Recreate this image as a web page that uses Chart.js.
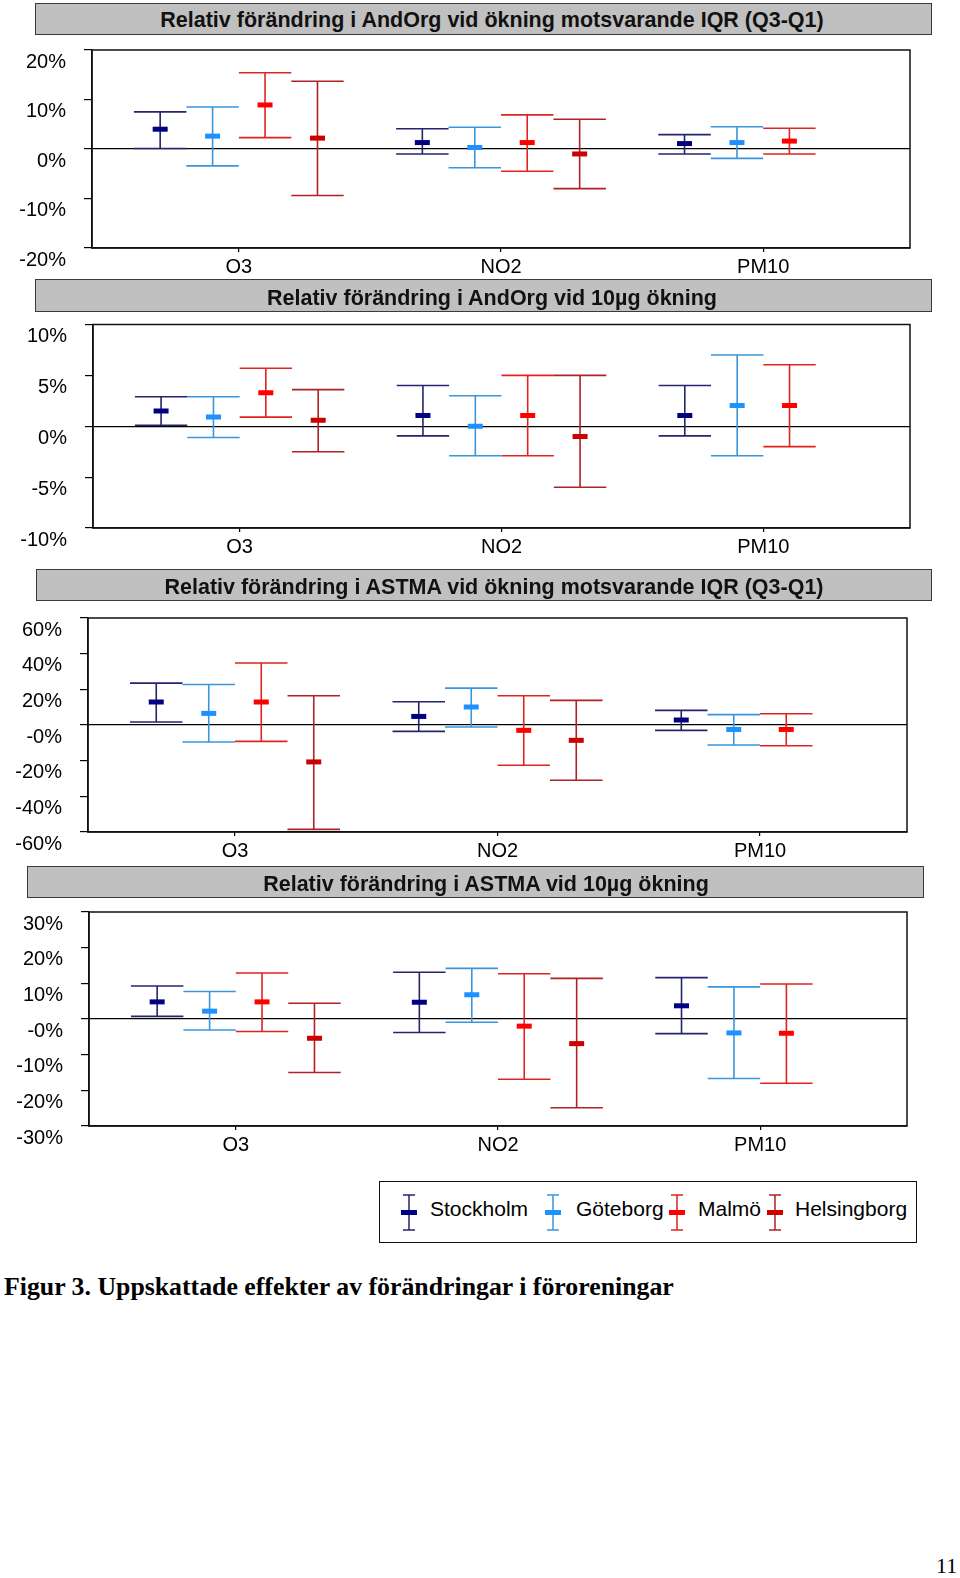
<!DOCTYPE html>
<html><head><meta charset="utf-8">
<script src="https://cdn.jsdelivr.net/npm/chart.js@4.4.1/dist/chart.umd.min.js"></script>
<style>
html,body{margin:0;padding:0;background:#fff;}
body{width:960px;height:1578px;position:relative;overflow:hidden;font-family:"Liberation Sans",Arial,sans-serif;}
.banner{position:absolute;box-sizing:border-box;background:#c0c0c0;border:1.5px solid #3a3a3a;}
.btext{position:absolute;width:900px;text-align:center;font-weight:bold;font-size:21.5px;line-height:21px;color:#111;white-space:nowrap;}
canvas.panel{position:absolute;left:0;}
.legend{position:absolute;box-sizing:border-box;border:1.5px solid #111;left:379px;top:1181px;width:538px;height:62px;}
.ltext{position:absolute;font-size:21px;line-height:21px;color:#000;white-space:nowrap;}
.caption{position:absolute;left:4px;top:1274px;font-family:"Liberation Serif","Times New Roman",serif;font-weight:bold;font-size:25.8px;line-height:26px;color:#000;white-space:nowrap;}
.pageno{position:absolute;left:936px;top:1555px;font-family:"Liberation Serif","Times New Roman",serif;font-size:22px;line-height:22px;color:#000;}
</style></head>
<body>
<div class="banner" style="left:35px;top:3px;width:897px;height:32px;"></div>
<div class="btext" style="left:42px;top:10px;">Relativ förändring i AndOrg vid ökning motsvarande IQR (Q3-Q1)</div>
<canvas class="panel" id="c1"></canvas>

<div class="banner" style="left:35px;top:279px;width:897px;height:33px;"></div>
<div class="btext" style="left:42px;top:288px;">Relativ förändring i AndOrg vid 10µg ökning</div>
<canvas class="panel" id="c2"></canvas>

<div class="banner" style="left:36px;top:569px;width:896px;height:32px;"></div>
<div class="btext" style="left:44px;top:577px;">Relativ förändring i ASTMA vid ökning motsvarande IQR (Q3-Q1)</div>
<canvas class="panel" id="c3"></canvas>

<div class="banner" style="left:27px;top:866px;width:897px;height:32px;"></div>
<div class="btext" style="left:36px;top:874px;">Relativ förändring i ASTMA vid 10µg ökning</div>
<canvas class="panel" id="c4"></canvas>

<div class="legend"></div>
<div id="legendItems"></div>

<div class="caption">Figur 3. Uppskattade effekter av förändringar i föroreningar</div>
<div class="pageno">11</div>

<script>
// ---------------- DATA ----------------
const categories = ['O3', 'NO2', 'PM10'];
const cities = ['Stockholm', 'Göteborg', 'Malmö', 'Helsingborg'];

// Panel 1: AndOrg, IQR increase (%), rows = cities, cols = categories
const andorgIqrMean = [[4.0, 1.3, 1.1], [2.6, 0.3, 1.3], [8.9, 1.3, 1.6], [2.2, -1.0, null]];
const andorgIqrLow  = [[0.1, -1.0, -1.0], [-3.4, -3.8, -1.9], [2.3, -4.5, -1.0], [-9.4, -8.0, null]];
const andorgIqrHigh = [[7.5, 4.1, 2.9], [8.5, 4.4, 4.5], [15.4, 6.9, 4.2], [13.7, 6.0, null]];
const andorgIqrTicks = [-20, -10, 0, 10, 20];
const andorgIqrTickLabels = ['-20%', '-10%', '0%', '10%', '20%'];

// Panel 2: AndOrg, 10µg increase (%)
const andorg10Mean = [[1.5, 1.05, 1.05], [0.9, 0.0, 2.05], [3.3, 1.05, 2.05], [0.6, -1.0, null]];
const andorg10Low  = [[0.1, -0.95, -0.95], [-1.1, -2.9, -2.9], [0.9, -2.9, -2.0], [-2.5, -6.0, null]];
const andorg10High = [[2.9, 4.0, 4.0], [2.9, 3.0, 7.0], [5.7, 5.0, 6.05], [3.6, 5.0, null]];
const andorg10Ticks = [-10, -5, 0, 5, 10];
const andorg10TickLabels = ['-10%', '-5%', '0%', '5%', '10%'];

// Panel 3: ASTMA, IQR increase (%)
const astmaIqrMean = [[12.9, 4.8, 2.8], [6.5, 10.1, -2.5], [12.9, -3.0, -2.5], [-20.7, -8.6, null]];
const astmaIqrLow  = [[1.7, -3.6, -3.0], [-9.5, -1.1, -11.2], [-9.2, -22.6, -11.6], [-58.5, -31.0, null]];
const astmaIqrHigh = [[23.5, 13.0, 8.2], [22.7, 20.7, 5.8], [34.8, 16.4, 6.3], [16.4, 13.8, null]];
const astmaIqrTicks = [-60, -40, -20, 0, 20, 40, 60];
const astmaIqrTickLabels = ['-60%', '-40%', '-20%', '-0%', '20%', '40%', '60%'];

// Panel 4: ASTMA, 10µg increase (%)
const astma10Mean = [[4.8, 4.7, 3.7], [2.2, 6.8, -3.9], [4.8, -2.0, -4.0], [-5.4, -6.9, null]];
const astma10Low  = [[0.75, -3.8, -4.1], [-3.1, -0.9, -16.7], [-3.5, -16.9, -18.0], [-15.0, -24.9, null]];
const astma10High = [[9.25, 13.1, 11.6], [7.7, 14.2, 9.0], [12.9, 12.7, 9.8], [4.4, 11.4, null]];
const astma10Ticks = [-30, -20, -10, 0, 10, 20, 30];
const astma10TickLabels = ['-30%', '-20%', '-10%', '-0%', '10%', '20%', '30%'];

// ---------------- STYLE / LAYOUT ----------------
const FONT = '"Liberation Sans", Arial, sans-serif';
const lineColors = ['#25256e', '#3a96dc', '#e02424', '#b02226'];
const markerColors = ['#000080', '#1e90ff', '#ff0000', '#cc0000'];
const groupOffsets = [-0.3, -0.1, 0.1, 0.3];
const capHalf = 0.1;
const X_AXIS_H = 36;

const framePlugin = {
  id: 'frame',
  beforeDatasetsDraw(chart) {
    const a = chart.chartArea, ctx = chart.ctx;
    ctx.save();
    ctx.strokeStyle = '#111';
    ctx.lineWidth = 1.5;
    ctx.strokeRect(a.left, a.top, a.right - a.left, a.bottom - a.top);
    ctx.restore();
  }
};

function makePanel(id, geom, mean, low, high, tickVals, tickLabels) {
  const cv = document.getElementById(id);
  const h = geom.bottom + X_AXIS_H - geom.top;
  cv.width = 960; cv.height = h;
  cv.style.top = geom.top + 'px';
  cv.style.width = '960px'; cv.style.height = h + 'px';

  const datasets = [];
  cities.forEach((c, s) => {
    const whisk = [], means = [];
    categories.forEach((cat, i) => {
      if (mean[s][i] == null) return;
      const x0 = i + 1 + groupOffsets[s];
      whisk.push({x: x0, y: low[s][i]}, {x: x0, y: high[s][i]}, {x: x0, y: null},
                 {x: x0 - capHalf, y: high[s][i]}, {x: x0 + capHalf, y: high[s][i]}, {x: x0, y: null},
                 {x: x0 - capHalf, y: low[s][i]}, {x: x0 + capHalf, y: low[s][i]}, {x: x0, y: null});
      means.push({x: x0, y: mean[s][i]});
    });
    datasets.push({
      type: 'scatter', label: c + ' intervall', data: whisk, showLine: true, spanGaps: false,
      borderColor: lineColors[s], borderWidth: 1.6, pointRadius: 0, order: 2
    });
    datasets.push({
      type: 'scatter', label: c, data: means, showLine: false,
      pointStyle: 'line', pointRadius: 7.5, pointBorderWidth: 5,
      pointBorderColor: markerColors[s], pointBackgroundColor: markerColors[s], order: 1
    });
  });

  return new Chart(cv, {
    type: 'scatter',
    data: {datasets},
    plugins: [framePlugin],
    options: {
      responsive: false, animation: false, events: [],
      layout: {padding: {top: geom.plotTop - geom.top, right: 960 - geom.right, left: 0, bottom: 0}},
      plugins: {legend: {display: false}, tooltip: {enabled: false}},
      scales: {
        x: {
          type: 'linear', position: 'bottom', min: 0.44, max: 3.56,
          afterBuildTicks: sc => { sc.ticks = categories.map((c, i) => ({value: i + 1})); },
          afterFit: sc => { sc.height = X_AXIS_H; sc.paddingLeft = 0; sc.paddingRight = 0; },
          ticks: {callback: (v, i) => categories[i], font: {size: 20, family: FONT}, color: '#000',
                  padding: 3, maxRotation: 0, autoSkip: false},
          grid: {drawOnChartArea: false, drawTicks: true, tickLength: 4, color: '#000', lineWidth: 1.2},
          border: {display: true, color: '#111', width: 1.5}
        },
        y: {
          type: 'linear', position: 'left', min: tickVals[0], max: tickVals[tickVals.length - 1],
          afterBuildTicks: sc => { sc.ticks = tickVals.map(v => ({value: v})); },
          afterFit: sc => { sc.width = geom.left; sc.paddingTop = 0; sc.paddingBottom = 0; },
          ticks: {callback: (v, i) => tickLabels[i], font: {size: 20, family: FONT}, color: '#000',
                  padding: 18, labelOffset: 12, autoSkip: false},
          grid: {drawOnChartArea: true, drawTicks: true, tickLength: 8, lineWidth: 1.2,
                 color: c => (c.tick && c.tick.value === 0) ? '#000' : 'rgba(0,0,0,0)', tickColor: '#000'},
          border: {display: true, color: '#111', width: 1.5}
        }
      }
    }
  });
}

makePanel('c1', {top: 36, plotTop: 50, bottom: 248, left: 92, right: 910},
          andorgIqrMean, andorgIqrLow, andorgIqrHigh, andorgIqrTicks, andorgIqrTickLabels);
makePanel('c2', {top: 312, plotTop: 324, bottom: 528, left: 93, right: 910},
          andorg10Mean, andorg10Low, andorg10High, andorg10Ticks, andorg10TickLabels);
makePanel('c3', {top: 601, plotTop: 618, bottom: 832, left: 88, right: 907},
          astmaIqrMean, astmaIqrLow, astmaIqrHigh, astmaIqrTicks, astmaIqrTickLabels);
makePanel('c4', {top: 898, plotTop: 912, bottom: 1126, left: 89, right: 907},
          astma10Mean, astma10Low, astma10High, astma10Ticks, astma10TickLabels);

// ---------------- LEGEND ----------------
const legendIconX = [408.5, 552.5, 676.5, 774.5];
const legendTextX = [430, 576, 698, 795];
const holder = document.getElementById('legendItems');
cities.forEach((c, s) => {
  const cv = document.createElement('canvas');
  cv.width = 24; cv.height = 44;
  cv.style.position = 'absolute';
  cv.style.left = (legendIconX[s] - 12) + 'px';
  cv.style.top = '1190px';
  const g = cv.getContext('2d');
  g.strokeStyle = lineColors[s]; g.lineWidth = 1.5;
  g.beginPath();
  g.moveTo(12, 5); g.lineTo(12, 40);
  g.moveTo(6, 5); g.lineTo(18, 5);
  g.moveTo(6, 40); g.lineTo(18, 40);
  g.stroke();
  g.fillStyle = markerColors[s];
  g.fillRect(4, 20, 16, 5);
  holder.appendChild(cv);
  const t = document.createElement('div');
  t.className = 'ltext';
  t.style.left = legendTextX[s] + 'px';
  t.style.top = '1198px';
  t.textContent = c;
  holder.appendChild(t);
});
</script>
</body></html>
